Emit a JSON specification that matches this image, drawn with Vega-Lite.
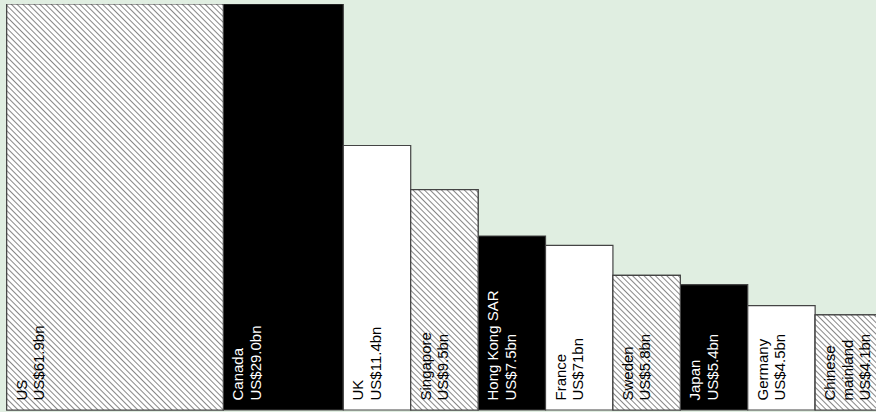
{
"$schema": "https://vega.github.io/schema/vega-lite/v6.json",
"width": 876, "height": 412,
"autosize": {"type": "fit", "contains": "padding"},
"padding": {"top": 4, "left": 0, "right": 0, "bottom": 0},
"background": "#e0eee1",
"config": {"view": {"stroke": null}},
"data": {"values": [
{"rank": 1, "country": "US", "label": "US\nUS$61.9bn", "value": 61.9, "weight": 3.214, "group": "a"},
{"rank": 2, "country": "Canada", "label": "Canada\nUS$29.0bn", "value": 29.0, "weight": 1.78, "group": "b"},
{"rank": 3, "country": "UK", "label": "UK\nUS$11.4bn", "value": 11.4, "weight": 1, "group": "c"},
{"rank": 4, "country": "Singapore", "label": "Singapore\nUS$9.5bn", "value": 9.5, "weight": 1, "group": "a"},
{"rank": 5, "country": "Hong Kong SAR", "label": "Hong Kong SAR\nUS$7.5bn", "value": 7.5, "weight": 1, "group": "b"},
{"rank": 6, "country": "France", "label": "France\nUS$71bn", "value": 7.1, "weight": 1, "group": "c"},
{"rank": 7, "country": "Sweden", "label": "Sweden\nUS$5.8bn", "value": 5.8, "weight": 1, "group": "a"},
{"rank": 8, "country": "Japan", "label": "Japan\nUS$5.4bn", "value": 5.4, "weight": 1, "group": "b"},
{"rank": 9, "country": "Germany", "label": "Germany\nUS$4.5bn", "value": 4.5, "weight": 1, "group": "c"},
{"rank": 10, "country": "Chinese mainland", "label": "Chinese\nmainland\nUS$4.1bn", "value": 4.1, "weight": 1, "group": "a"}
]},
"transform": [{"stack": "weight", "groupby": [], "sort": [{"field": "rank", "order": "ascending"}], "as": ["x0", "x1"]}],
"layer": [
{"mark": {"type": "rect", "stroke": "#444", "strokeWidth": 1.2, "clip": true},
 "encoding": {
  "x": {"field": "x0", "type": "quantitative", "scale": {"domain": [-0.0994, 12.897]}, "axis": null},
  "x2": {"field": "x1"},
  "y": {"field": "value", "type": "quantitative", "scale": {"domain": [-0.086, 17.5], "clamp": true}, "axis": null},
  "y2": {"datum": 0},
  "fill": {"field": "group", "type": "nominal", "scale": {"domain": ["a", "b", "c"], "range": ["#ffffff", "#000000", "#ffffff"]}, "legend": null}
 }},
{"transform": [{"filter": "datum.country === 'US'"}],
 "mark": {"type": "rect", "stroke": "#444", "strokeWidth": 1.2, "clip": true,
  "fill": {"gradient": "linear", "x1": 0, "y1": 1, "x2": 0.72881, "y2": -0.36611, "stops": [
{"offset":0,"color":"#888"},{"offset":0.002,"color":"#fff"},{"offset":0.006,"color":"#fff"},
{"offset":0.008,"color":"#888"},{"offset":0.01,"color":"#fff"},{"offset":0.014,"color":"#fff"},
{"offset":0.016,"color":"#888"},{"offset":0.018,"color":"#fff"},{"offset":0.022,"color":"#fff"},
{"offset":0.024,"color":"#888"},{"offset":0.026,"color":"#fff"},{"offset":0.03,"color":"#fff"},
{"offset":0.032,"color":"#888"},{"offset":0.034,"color":"#fff"},{"offset":0.038,"color":"#fff"},
{"offset":0.04,"color":"#888"},{"offset":0.042,"color":"#fff"},{"offset":0.046,"color":"#fff"},
{"offset":0.048,"color":"#888"},{"offset":0.05,"color":"#fff"},{"offset":0.054,"color":"#fff"},
{"offset":0.056,"color":"#888"},{"offset":0.058,"color":"#fff"},{"offset":0.062,"color":"#fff"},
{"offset":0.064,"color":"#888"},{"offset":0.066,"color":"#fff"},{"offset":0.07,"color":"#fff"},
{"offset":0.072,"color":"#888"},{"offset":0.074,"color":"#fff"},{"offset":0.078,"color":"#fff"},
{"offset":0.08,"color":"#888"},{"offset":0.082,"color":"#fff"},{"offset":0.086,"color":"#fff"},
{"offset":0.088,"color":"#888"},{"offset":0.09,"color":"#fff"},{"offset":0.094,"color":"#fff"},
{"offset":0.096,"color":"#888"},{"offset":0.098,"color":"#fff"},{"offset":0.102,"color":"#fff"},
{"offset":0.104,"color":"#888"},{"offset":0.106,"color":"#fff"},{"offset":0.11,"color":"#fff"},
{"offset":0.112,"color":"#888"},{"offset":0.114,"color":"#fff"},{"offset":0.118,"color":"#fff"},
{"offset":0.12,"color":"#888"},{"offset":0.122,"color":"#fff"},{"offset":0.126,"color":"#fff"},
{"offset":0.128,"color":"#888"},{"offset":0.13,"color":"#fff"},{"offset":0.134,"color":"#fff"},
{"offset":0.136,"color":"#888"},{"offset":0.138,"color":"#fff"},{"offset":0.142,"color":"#fff"},
{"offset":0.144,"color":"#888"},{"offset":0.146,"color":"#fff"},{"offset":0.15,"color":"#fff"},
{"offset":0.152,"color":"#888"},{"offset":0.154,"color":"#fff"},{"offset":0.158,"color":"#fff"},
{"offset":0.16,"color":"#888"},{"offset":0.162,"color":"#fff"},{"offset":0.166,"color":"#fff"},
{"offset":0.168,"color":"#888"},{"offset":0.17,"color":"#fff"},{"offset":0.174,"color":"#fff"},
{"offset":0.176,"color":"#888"},{"offset":0.178,"color":"#fff"},{"offset":0.182,"color":"#fff"},
{"offset":0.184,"color":"#888"},{"offset":0.186,"color":"#fff"},{"offset":0.19,"color":"#fff"},
{"offset":0.192,"color":"#888"},{"offset":0.194,"color":"#fff"},{"offset":0.198,"color":"#fff"},
{"offset":0.2,"color":"#888"},{"offset":0.202,"color":"#fff"},{"offset":0.206,"color":"#fff"},
{"offset":0.208,"color":"#888"},{"offset":0.21,"color":"#fff"},{"offset":0.214,"color":"#fff"},
{"offset":0.216,"color":"#888"},{"offset":0.218,"color":"#fff"},{"offset":0.222,"color":"#fff"},
{"offset":0.224,"color":"#888"},{"offset":0.226,"color":"#fff"},{"offset":0.23,"color":"#fff"},
{"offset":0.232,"color":"#888"},{"offset":0.234,"color":"#fff"},{"offset":0.238,"color":"#fff"},
{"offset":0.24,"color":"#888"},{"offset":0.242,"color":"#fff"},{"offset":0.246,"color":"#fff"},
{"offset":0.248,"color":"#888"},{"offset":0.25,"color":"#fff"},{"offset":0.254,"color":"#fff"},
{"offset":0.256,"color":"#888"},{"offset":0.258,"color":"#fff"},{"offset":0.262,"color":"#fff"},
{"offset":0.264,"color":"#888"},{"offset":0.266,"color":"#fff"},{"offset":0.27,"color":"#fff"},
{"offset":0.272,"color":"#888"},{"offset":0.274,"color":"#fff"},{"offset":0.278,"color":"#fff"},
{"offset":0.28,"color":"#888"},{"offset":0.282,"color":"#fff"},{"offset":0.286,"color":"#fff"},
{"offset":0.288,"color":"#888"},{"offset":0.29,"color":"#fff"},{"offset":0.294,"color":"#fff"},
{"offset":0.296,"color":"#888"},{"offset":0.298,"color":"#fff"},{"offset":0.302,"color":"#fff"},
{"offset":0.304,"color":"#888"},{"offset":0.306,"color":"#fff"},{"offset":0.31,"color":"#fff"},
{"offset":0.312,"color":"#888"},{"offset":0.314,"color":"#fff"},{"offset":0.318,"color":"#fff"},
{"offset":0.32,"color":"#888"},{"offset":0.322,"color":"#fff"},{"offset":0.326,"color":"#fff"},
{"offset":0.328,"color":"#888"},{"offset":0.33,"color":"#fff"},{"offset":0.334,"color":"#fff"},
{"offset":0.336,"color":"#888"},{"offset":0.338,"color":"#fff"},{"offset":0.342,"color":"#fff"},
{"offset":0.344,"color":"#888"},{"offset":0.346,"color":"#fff"},{"offset":0.35,"color":"#fff"},
{"offset":0.352,"color":"#888"},{"offset":0.354,"color":"#fff"},{"offset":0.358,"color":"#fff"},
{"offset":0.36,"color":"#888"},{"offset":0.362,"color":"#fff"},{"offset":0.366,"color":"#fff"},
{"offset":0.368,"color":"#888"},{"offset":0.37,"color":"#fff"},{"offset":0.374,"color":"#fff"},
{"offset":0.376,"color":"#888"},{"offset":0.378,"color":"#fff"},{"offset":0.382,"color":"#fff"},
{"offset":0.384,"color":"#888"},{"offset":0.386,"color":"#fff"},{"offset":0.39,"color":"#fff"},
{"offset":0.392,"color":"#888"},{"offset":0.394,"color":"#fff"},{"offset":0.398,"color":"#fff"},
{"offset":0.4,"color":"#888"},{"offset":0.402,"color":"#fff"},{"offset":0.406,"color":"#fff"},
{"offset":0.408,"color":"#888"},{"offset":0.41,"color":"#fff"},{"offset":0.414,"color":"#fff"},
{"offset":0.416,"color":"#888"},{"offset":0.418,"color":"#fff"},{"offset":0.422,"color":"#fff"},
{"offset":0.424,"color":"#888"},{"offset":0.426,"color":"#fff"},{"offset":0.43,"color":"#fff"},
{"offset":0.432,"color":"#888"},{"offset":0.434,"color":"#fff"},{"offset":0.438,"color":"#fff"},
{"offset":0.44,"color":"#888"},{"offset":0.442,"color":"#fff"},{"offset":0.446,"color":"#fff"},
{"offset":0.448,"color":"#888"},{"offset":0.45,"color":"#fff"},{"offset":0.454,"color":"#fff"},
{"offset":0.456,"color":"#888"},{"offset":0.458,"color":"#fff"},{"offset":0.462,"color":"#fff"},
{"offset":0.464,"color":"#888"},{"offset":0.466,"color":"#fff"},{"offset":0.47,"color":"#fff"},
{"offset":0.472,"color":"#888"},{"offset":0.474,"color":"#fff"},{"offset":0.478,"color":"#fff"},
{"offset":0.48,"color":"#888"},{"offset":0.482,"color":"#fff"},{"offset":0.486,"color":"#fff"},
{"offset":0.488,"color":"#888"},{"offset":0.49,"color":"#fff"},{"offset":0.494,"color":"#fff"},
{"offset":0.496,"color":"#888"},{"offset":0.498,"color":"#fff"},{"offset":0.502,"color":"#fff"},
{"offset":0.504,"color":"#888"},{"offset":0.506,"color":"#fff"},{"offset":0.51,"color":"#fff"},
{"offset":0.512,"color":"#888"},{"offset":0.514,"color":"#fff"},{"offset":0.518,"color":"#fff"},
{"offset":0.52,"color":"#888"},{"offset":0.522,"color":"#fff"},{"offset":0.526,"color":"#fff"},
{"offset":0.528,"color":"#888"},{"offset":0.53,"color":"#fff"},{"offset":0.534,"color":"#fff"},
{"offset":0.536,"color":"#888"},{"offset":0.538,"color":"#fff"},{"offset":0.542,"color":"#fff"},
{"offset":0.544,"color":"#888"},{"offset":0.546,"color":"#fff"},{"offset":0.55,"color":"#fff"},
{"offset":0.552,"color":"#888"},{"offset":0.554,"color":"#fff"},{"offset":0.558,"color":"#fff"},
{"offset":0.56,"color":"#888"},{"offset":0.562,"color":"#fff"},{"offset":0.566,"color":"#fff"},
{"offset":0.568,"color":"#888"},{"offset":0.57,"color":"#fff"},{"offset":0.574,"color":"#fff"},
{"offset":0.576,"color":"#888"},{"offset":0.578,"color":"#fff"},{"offset":0.582,"color":"#fff"},
{"offset":0.584,"color":"#888"},{"offset":0.586,"color":"#fff"},{"offset":0.59,"color":"#fff"},
{"offset":0.592,"color":"#888"},{"offset":0.594,"color":"#fff"},{"offset":0.598,"color":"#fff"},
{"offset":0.6,"color":"#888"},{"offset":0.602,"color":"#fff"},{"offset":0.606,"color":"#fff"},
{"offset":0.608,"color":"#888"},{"offset":0.61,"color":"#fff"},{"offset":0.614,"color":"#fff"},
{"offset":0.616,"color":"#888"},{"offset":0.618,"color":"#fff"},{"offset":0.622,"color":"#fff"},
{"offset":0.624,"color":"#888"},{"offset":0.626,"color":"#fff"},{"offset":0.63,"color":"#fff"},
{"offset":0.632,"color":"#888"},{"offset":0.634,"color":"#fff"},{"offset":0.638,"color":"#fff"},
{"offset":0.64,"color":"#888"},{"offset":0.642,"color":"#fff"},{"offset":0.646,"color":"#fff"},
{"offset":0.648,"color":"#888"},{"offset":0.65,"color":"#fff"},{"offset":0.654,"color":"#fff"},
{"offset":0.656,"color":"#888"},{"offset":0.658,"color":"#fff"},{"offset":0.662,"color":"#fff"},
{"offset":0.664,"color":"#888"},{"offset":0.666,"color":"#fff"},{"offset":0.67,"color":"#fff"},
{"offset":0.672,"color":"#888"},{"offset":0.674,"color":"#fff"},{"offset":0.678,"color":"#fff"},
{"offset":0.68,"color":"#888"},{"offset":0.682,"color":"#fff"},{"offset":0.686,"color":"#fff"},
{"offset":0.688,"color":"#888"},{"offset":0.69,"color":"#fff"},{"offset":0.694,"color":"#fff"},
{"offset":0.696,"color":"#888"},{"offset":0.698,"color":"#fff"},{"offset":0.702,"color":"#fff"},
{"offset":0.704,"color":"#888"},{"offset":0.706,"color":"#fff"},{"offset":0.71,"color":"#fff"},
{"offset":0.712,"color":"#888"},{"offset":0.714,"color":"#fff"},{"offset":0.718,"color":"#fff"},
{"offset":0.72,"color":"#888"},{"offset":0.722,"color":"#fff"},{"offset":0.726,"color":"#fff"},
{"offset":0.728,"color":"#888"},{"offset":0.73,"color":"#fff"},{"offset":0.734,"color":"#fff"},
{"offset":0.736,"color":"#888"},{"offset":0.738,"color":"#fff"},{"offset":0.742,"color":"#fff"},
{"offset":0.744,"color":"#888"},{"offset":0.746,"color":"#fff"},{"offset":0.75,"color":"#fff"},
{"offset":0.752,"color":"#888"},{"offset":0.754,"color":"#fff"},{"offset":0.758,"color":"#fff"},
{"offset":0.76,"color":"#888"},{"offset":0.762,"color":"#fff"},{"offset":0.766,"color":"#fff"},
{"offset":0.768,"color":"#888"},{"offset":0.77,"color":"#fff"},{"offset":0.774,"color":"#fff"},
{"offset":0.776,"color":"#888"},{"offset":0.778,"color":"#fff"},{"offset":0.782,"color":"#fff"},
{"offset":0.784,"color":"#888"},{"offset":0.786,"color":"#fff"},{"offset":0.79,"color":"#fff"},
{"offset":0.792,"color":"#888"},{"offset":0.794,"color":"#fff"},{"offset":0.798,"color":"#fff"},
{"offset":0.8,"color":"#888"},{"offset":0.802,"color":"#fff"},{"offset":0.806,"color":"#fff"},
{"offset":0.808,"color":"#888"},{"offset":0.81,"color":"#fff"},{"offset":0.814,"color":"#fff"},
{"offset":0.816,"color":"#888"},{"offset":0.818,"color":"#fff"},{"offset":0.822,"color":"#fff"},
{"offset":0.824,"color":"#888"},{"offset":0.826,"color":"#fff"},{"offset":0.83,"color":"#fff"},
{"offset":0.832,"color":"#888"},{"offset":0.834,"color":"#fff"},{"offset":0.838,"color":"#fff"},
{"offset":0.84,"color":"#888"},{"offset":0.842,"color":"#fff"},{"offset":0.846,"color":"#fff"},
{"offset":0.848,"color":"#888"},{"offset":0.85,"color":"#fff"},{"offset":0.854,"color":"#fff"},
{"offset":0.856,"color":"#888"},{"offset":0.858,"color":"#fff"},{"offset":0.862,"color":"#fff"},
{"offset":0.864,"color":"#888"},{"offset":0.866,"color":"#fff"},{"offset":0.87,"color":"#fff"},
{"offset":0.872,"color":"#888"},{"offset":0.874,"color":"#fff"},{"offset":0.878,"color":"#fff"}
  ]}},
 "encoding": {
  "x": {"field": "x0", "type": "quantitative", "scale": {"domain": [-0.0994, 12.897]}, "axis": null},
  "x2": {"field": "x1"},
  "y": {"field": "value", "type": "quantitative", "scale": {"domain": [-0.086, 17.5], "clamp": true}, "axis": null},
  "y2": {"datum": 0}
 }},
{"transform": [{"filter": "datum.country === 'Singapore'"}],
 "mark": {"type": "rect", "stroke": "#444", "strokeWidth": 1.2, "clip": true,
  "fill": {"gradient": "linear", "x1": 0, "y1": 1, "x2": 0.90405, "y2": -1.95627, "stops": [
{"offset":0,"color":"#888"},{"offset":0.002,"color":"#fff"},{"offset":0.006,"color":"#fff"},
{"offset":0.008,"color":"#888"},{"offset":0.01,"color":"#fff"},{"offset":0.014,"color":"#fff"},
{"offset":0.016,"color":"#888"},{"offset":0.018,"color":"#fff"},{"offset":0.022,"color":"#fff"},
{"offset":0.024,"color":"#888"},{"offset":0.026,"color":"#fff"},{"offset":0.03,"color":"#fff"},
{"offset":0.032,"color":"#888"},{"offset":0.034,"color":"#fff"},{"offset":0.038,"color":"#fff"},
{"offset":0.04,"color":"#888"},{"offset":0.042,"color":"#fff"},{"offset":0.046,"color":"#fff"},
{"offset":0.048,"color":"#888"},{"offset":0.05,"color":"#fff"},{"offset":0.054,"color":"#fff"},
{"offset":0.056,"color":"#888"},{"offset":0.058,"color":"#fff"},{"offset":0.062,"color":"#fff"},
{"offset":0.064,"color":"#888"},{"offset":0.066,"color":"#fff"},{"offset":0.07,"color":"#fff"},
{"offset":0.072,"color":"#888"},{"offset":0.074,"color":"#fff"},{"offset":0.078,"color":"#fff"},
{"offset":0.08,"color":"#888"},{"offset":0.082,"color":"#fff"},{"offset":0.086,"color":"#fff"},
{"offset":0.088,"color":"#888"},{"offset":0.09,"color":"#fff"},{"offset":0.094,"color":"#fff"},
{"offset":0.096,"color":"#888"},{"offset":0.098,"color":"#fff"},{"offset":0.102,"color":"#fff"},
{"offset":0.104,"color":"#888"},{"offset":0.106,"color":"#fff"},{"offset":0.11,"color":"#fff"},
{"offset":0.112,"color":"#888"},{"offset":0.114,"color":"#fff"},{"offset":0.118,"color":"#fff"},
{"offset":0.12,"color":"#888"},{"offset":0.122,"color":"#fff"},{"offset":0.126,"color":"#fff"},
{"offset":0.128,"color":"#888"},{"offset":0.13,"color":"#fff"},{"offset":0.134,"color":"#fff"},
{"offset":0.136,"color":"#888"},{"offset":0.138,"color":"#fff"},{"offset":0.142,"color":"#fff"},
{"offset":0.144,"color":"#888"},{"offset":0.146,"color":"#fff"},{"offset":0.15,"color":"#fff"},
{"offset":0.152,"color":"#888"},{"offset":0.154,"color":"#fff"},{"offset":0.158,"color":"#fff"},
{"offset":0.16,"color":"#888"},{"offset":0.162,"color":"#fff"},{"offset":0.166,"color":"#fff"},
{"offset":0.168,"color":"#888"},{"offset":0.17,"color":"#fff"},{"offset":0.174,"color":"#fff"},
{"offset":0.176,"color":"#888"},{"offset":0.178,"color":"#fff"},{"offset":0.182,"color":"#fff"},
{"offset":0.184,"color":"#888"},{"offset":0.186,"color":"#fff"},{"offset":0.19,"color":"#fff"},
{"offset":0.192,"color":"#888"},{"offset":0.194,"color":"#fff"},{"offset":0.198,"color":"#fff"},
{"offset":0.2,"color":"#888"},{"offset":0.202,"color":"#fff"},{"offset":0.206,"color":"#fff"},
{"offset":0.208,"color":"#888"},{"offset":0.21,"color":"#fff"},{"offset":0.214,"color":"#fff"},
{"offset":0.216,"color":"#888"},{"offset":0.218,"color":"#fff"},{"offset":0.222,"color":"#fff"},
{"offset":0.224,"color":"#888"},{"offset":0.226,"color":"#fff"},{"offset":0.23,"color":"#fff"},
{"offset":0.232,"color":"#888"},{"offset":0.234,"color":"#fff"},{"offset":0.238,"color":"#fff"},
{"offset":0.24,"color":"#888"},{"offset":0.242,"color":"#fff"},{"offset":0.246,"color":"#fff"},
{"offset":0.248,"color":"#888"},{"offset":0.25,"color":"#fff"},{"offset":0.254,"color":"#fff"},
{"offset":0.256,"color":"#888"},{"offset":0.258,"color":"#fff"},{"offset":0.262,"color":"#fff"},
{"offset":0.264,"color":"#888"},{"offset":0.266,"color":"#fff"},{"offset":0.27,"color":"#fff"},
{"offset":0.272,"color":"#888"},{"offset":0.274,"color":"#fff"},{"offset":0.278,"color":"#fff"},
{"offset":0.28,"color":"#888"},{"offset":0.282,"color":"#fff"},{"offset":0.286,"color":"#fff"},
{"offset":0.288,"color":"#888"},{"offset":0.29,"color":"#fff"},{"offset":0.294,"color":"#fff"},
{"offset":0.296,"color":"#888"},{"offset":0.298,"color":"#fff"},{"offset":0.302,"color":"#fff"},
{"offset":0.304,"color":"#888"},{"offset":0.306,"color":"#fff"},{"offset":0.31,"color":"#fff"},
{"offset":0.312,"color":"#888"},{"offset":0.314,"color":"#fff"},{"offset":0.318,"color":"#fff"},
{"offset":0.32,"color":"#888"},{"offset":0.322,"color":"#fff"},{"offset":0.326,"color":"#fff"},
{"offset":0.328,"color":"#888"},{"offset":0.33,"color":"#fff"},{"offset":0.334,"color":"#fff"},
{"offset":0.336,"color":"#888"},{"offset":0.338,"color":"#fff"},{"offset":0.342,"color":"#fff"},
{"offset":0.344,"color":"#888"},{"offset":0.346,"color":"#fff"},{"offset":0.35,"color":"#fff"},
{"offset":0.352,"color":"#888"},{"offset":0.354,"color":"#fff"},{"offset":0.358,"color":"#fff"},
{"offset":0.36,"color":"#888"},{"offset":0.362,"color":"#fff"},{"offset":0.366,"color":"#fff"},
{"offset":0.368,"color":"#888"},{"offset":0.37,"color":"#fff"},{"offset":0.374,"color":"#fff"},
{"offset":0.376,"color":"#888"},{"offset":0.378,"color":"#fff"},{"offset":0.382,"color":"#fff"},
{"offset":0.384,"color":"#888"},{"offset":0.386,"color":"#fff"},{"offset":0.39,"color":"#fff"},
{"offset":0.392,"color":"#888"},{"offset":0.394,"color":"#fff"},{"offset":0.398,"color":"#fff"},
{"offset":0.4,"color":"#888"},{"offset":0.402,"color":"#fff"},{"offset":0.406,"color":"#fff"}
  ]}},
 "encoding": {
  "x": {"field": "x0", "type": "quantitative", "scale": {"domain": [-0.0994, 12.897]}, "axis": null},
  "x2": {"field": "x1"},
  "y": {"field": "value", "type": "quantitative", "scale": {"domain": [-0.086, 17.5], "clamp": true}, "axis": null},
  "y2": {"datum": 0}
 }},
{"transform": [{"filter": "datum.country === 'Sweden'"}],
 "mark": {"type": "rect", "stroke": "#444", "strokeWidth": 1.2, "clip": true,
  "fill": {"gradient": "linear", "x1": 0, "y1": 1, "x2": 2.1203, "y2": -3.233, "stops": [
{"offset":0,"color":"#888"},{"offset":0.002,"color":"#fff"},{"offset":0.006,"color":"#fff"},
{"offset":0.008,"color":"#888"},{"offset":0.01,"color":"#fff"},{"offset":0.014,"color":"#fff"},
{"offset":0.016,"color":"#888"},{"offset":0.018,"color":"#fff"},{"offset":0.022,"color":"#fff"},
{"offset":0.024,"color":"#888"},{"offset":0.026,"color":"#fff"},{"offset":0.03,"color":"#fff"},
{"offset":0.032,"color":"#888"},{"offset":0.034,"color":"#fff"},{"offset":0.038,"color":"#fff"},
{"offset":0.04,"color":"#888"},{"offset":0.042,"color":"#fff"},{"offset":0.046,"color":"#fff"},
{"offset":0.048,"color":"#888"},{"offset":0.05,"color":"#fff"},{"offset":0.054,"color":"#fff"},
{"offset":0.056,"color":"#888"},{"offset":0.058,"color":"#fff"},{"offset":0.062,"color":"#fff"},
{"offset":0.064,"color":"#888"},{"offset":0.066,"color":"#fff"},{"offset":0.07,"color":"#fff"},
{"offset":0.072,"color":"#888"},{"offset":0.074,"color":"#fff"},{"offset":0.078,"color":"#fff"},
{"offset":0.08,"color":"#888"},{"offset":0.082,"color":"#fff"},{"offset":0.086,"color":"#fff"},
{"offset":0.088,"color":"#888"},{"offset":0.09,"color":"#fff"},{"offset":0.094,"color":"#fff"},
{"offset":0.096,"color":"#888"},{"offset":0.098,"color":"#fff"},{"offset":0.102,"color":"#fff"},
{"offset":0.104,"color":"#888"},{"offset":0.106,"color":"#fff"},{"offset":0.11,"color":"#fff"},
{"offset":0.112,"color":"#888"},{"offset":0.114,"color":"#fff"},{"offset":0.118,"color":"#fff"},
{"offset":0.12,"color":"#888"},{"offset":0.122,"color":"#fff"},{"offset":0.126,"color":"#fff"},
{"offset":0.128,"color":"#888"},{"offset":0.13,"color":"#fff"},{"offset":0.134,"color":"#fff"},
{"offset":0.136,"color":"#888"},{"offset":0.138,"color":"#fff"},{"offset":0.142,"color":"#fff"},
{"offset":0.144,"color":"#888"},{"offset":0.146,"color":"#fff"},{"offset":0.15,"color":"#fff"},
{"offset":0.152,"color":"#888"},{"offset":0.154,"color":"#fff"},{"offset":0.158,"color":"#fff"},
{"offset":0.16,"color":"#888"},{"offset":0.162,"color":"#fff"},{"offset":0.166,"color":"#fff"},
{"offset":0.168,"color":"#888"},{"offset":0.17,"color":"#fff"},{"offset":0.174,"color":"#fff"},
{"offset":0.176,"color":"#888"},{"offset":0.178,"color":"#fff"},{"offset":0.182,"color":"#fff"},
{"offset":0.184,"color":"#888"},{"offset":0.186,"color":"#fff"},{"offset":0.19,"color":"#fff"},
{"offset":0.192,"color":"#888"},{"offset":0.194,"color":"#fff"},{"offset":0.198,"color":"#fff"},
{"offset":0.2,"color":"#888"},{"offset":0.202,"color":"#fff"},{"offset":0.206,"color":"#fff"},
{"offset":0.208,"color":"#888"},{"offset":0.21,"color":"#fff"},{"offset":0.214,"color":"#fff"},
{"offset":0.216,"color":"#888"},{"offset":0.218,"color":"#fff"},{"offset":0.222,"color":"#fff"},
{"offset":0.224,"color":"#888"},{"offset":0.226,"color":"#fff"},{"offset":0.23,"color":"#fff"},
{"offset":0.232,"color":"#888"},{"offset":0.234,"color":"#fff"},{"offset":0.238,"color":"#fff"},
{"offset":0.24,"color":"#888"},{"offset":0.242,"color":"#fff"},{"offset":0.246,"color":"#fff"},
{"offset":0.248,"color":"#888"},{"offset":0.25,"color":"#fff"},{"offset":0.254,"color":"#fff"},
{"offset":0.256,"color":"#888"},{"offset":0.258,"color":"#fff"},{"offset":0.262,"color":"#fff"},
{"offset":0.264,"color":"#888"},{"offset":0.266,"color":"#fff"},{"offset":0.27,"color":"#fff"},
{"offset":0.272,"color":"#888"},{"offset":0.274,"color":"#fff"},{"offset":0.278,"color":"#fff"},
{"offset":0.28,"color":"#888"},{"offset":0.282,"color":"#fff"},{"offset":0.286,"color":"#fff"}
  ]}},
 "encoding": {
  "x": {"field": "x0", "type": "quantitative", "scale": {"domain": [-0.0994, 12.897]}, "axis": null},
  "x2": {"field": "x1"},
  "y": {"field": "value", "type": "quantitative", "scale": {"domain": [-0.086, 17.5], "clamp": true}, "axis": null},
  "y2": {"datum": 0}
 }},
{"transform": [{"filter": "datum.country === 'Chinese mainland'"}],
 "mark": {"type": "rect", "stroke": "#444", "strokeWidth": 1.2, "clip": true,
  "fill": {"gradient": "linear", "x1": 0, "y1": 1, "x2": 3.5335, "y2": -3.9868, "stops": [
{"offset":0,"color":"#888"},{"offset":0.002,"color":"#fff"},{"offset":0.006,"color":"#fff"},
{"offset":0.008,"color":"#888"},{"offset":0.01,"color":"#fff"},{"offset":0.014,"color":"#fff"},
{"offset":0.016,"color":"#888"},{"offset":0.018,"color":"#fff"},{"offset":0.022,"color":"#fff"},
{"offset":0.024,"color":"#888"},{"offset":0.026,"color":"#fff"},{"offset":0.03,"color":"#fff"},
{"offset":0.032,"color":"#888"},{"offset":0.034,"color":"#fff"},{"offset":0.038,"color":"#fff"},
{"offset":0.04,"color":"#888"},{"offset":0.042,"color":"#fff"},{"offset":0.046,"color":"#fff"},
{"offset":0.048,"color":"#888"},{"offset":0.05,"color":"#fff"},{"offset":0.054,"color":"#fff"},
{"offset":0.056,"color":"#888"},{"offset":0.058,"color":"#fff"},{"offset":0.062,"color":"#fff"},
{"offset":0.064,"color":"#888"},{"offset":0.066,"color":"#fff"},{"offset":0.07,"color":"#fff"},
{"offset":0.072,"color":"#888"},{"offset":0.074,"color":"#fff"},{"offset":0.078,"color":"#fff"},
{"offset":0.08,"color":"#888"},{"offset":0.082,"color":"#fff"},{"offset":0.086,"color":"#fff"},
{"offset":0.088,"color":"#888"},{"offset":0.09,"color":"#fff"},{"offset":0.094,"color":"#fff"},
{"offset":0.096,"color":"#888"},{"offset":0.098,"color":"#fff"},{"offset":0.102,"color":"#fff"},
{"offset":0.104,"color":"#888"},{"offset":0.106,"color":"#fff"},{"offset":0.11,"color":"#fff"},
{"offset":0.112,"color":"#888"},{"offset":0.114,"color":"#fff"},{"offset":0.118,"color":"#fff"},
{"offset":0.12,"color":"#888"},{"offset":0.122,"color":"#fff"},{"offset":0.126,"color":"#fff"},
{"offset":0.128,"color":"#888"},{"offset":0.13,"color":"#fff"},{"offset":0.134,"color":"#fff"},
{"offset":0.136,"color":"#888"},{"offset":0.138,"color":"#fff"},{"offset":0.142,"color":"#fff"},
{"offset":0.144,"color":"#888"},{"offset":0.146,"color":"#fff"},{"offset":0.15,"color":"#fff"},
{"offset":0.152,"color":"#888"},{"offset":0.154,"color":"#fff"},{"offset":0.158,"color":"#fff"},
{"offset":0.16,"color":"#888"},{"offset":0.162,"color":"#fff"},{"offset":0.166,"color":"#fff"},
{"offset":0.168,"color":"#888"},{"offset":0.17,"color":"#fff"},{"offset":0.174,"color":"#fff"},
{"offset":0.176,"color":"#888"},{"offset":0.178,"color":"#fff"},{"offset":0.182,"color":"#fff"},
{"offset":0.184,"color":"#888"},{"offset":0.186,"color":"#fff"},{"offset":0.19,"color":"#fff"},
{"offset":0.192,"color":"#888"},{"offset":0.194,"color":"#fff"},{"offset":0.198,"color":"#fff"},
{"offset":0.2,"color":"#888"},{"offset":0.202,"color":"#fff"},{"offset":0.206,"color":"#fff"},
{"offset":0.208,"color":"#888"},{"offset":0.21,"color":"#fff"},{"offset":0.214,"color":"#fff"},
{"offset":0.216,"color":"#888"},{"offset":0.218,"color":"#fff"},{"offset":0.222,"color":"#fff"},
{"offset":0.224,"color":"#888"},{"offset":0.226,"color":"#fff"},{"offset":0.23,"color":"#fff"}
  ]}},
 "encoding": {
  "x": {"field": "x0", "type": "quantitative", "scale": {"domain": [-0.0994, 12.897]}, "axis": null},
  "x2": {"field": "x1"},
  "y": {"field": "value", "type": "quantitative", "scale": {"domain": [-0.086, 17.5], "clamp": true}, "axis": null},
  "y2": {"datum": 0}
 }},
{"mark": {"type": "text", "angle": 270, "align": "left", "baseline": "top", "dx": 9.5, "dy": 8, "font": "Liberation Sans", "fontSize": 15, "lineHeight": 17.5, "lineBreak": "\n", "clip": true},
 "encoding": {
  "x": {"field": "x0", "type": "quantitative", "scale": {"domain": [-0.0994, 12.897]}, "axis": null},
  "y": {"datum": 0, "type": "quantitative", "scale": {"domain": [-0.086, 17.5], "clamp": true}, "axis": null},
  "text": {"field": "label"},
  "color": {"field": "group", "type": "nominal", "scale": {"domain": ["a", "b", "c"], "range": ["#000000", "#ffffff", "#000000"]}, "legend": null}
 }}
]
}
